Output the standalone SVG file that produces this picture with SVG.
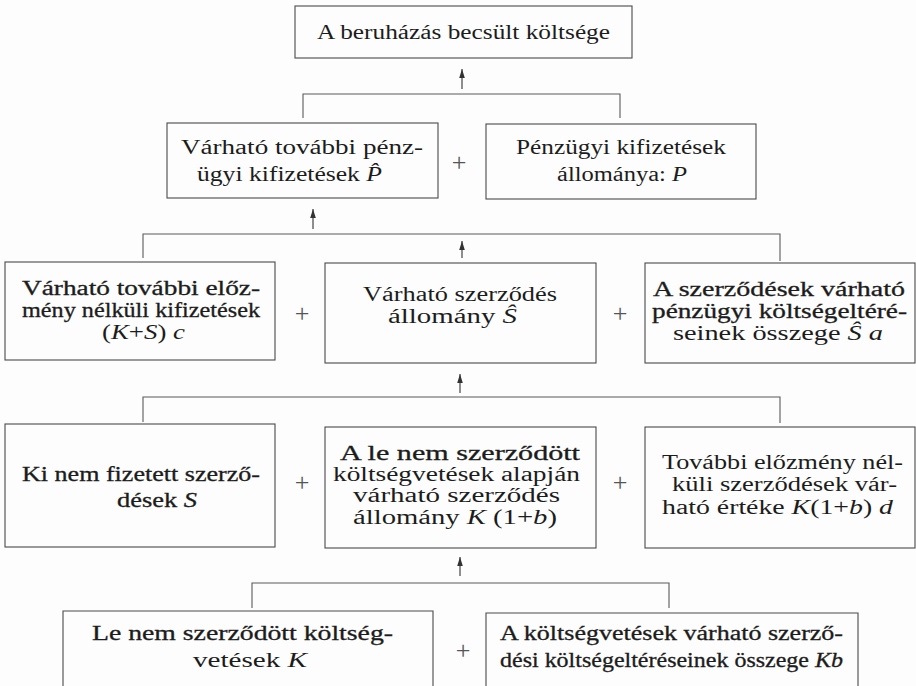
<svg xmlns="http://www.w3.org/2000/svg" width="916" height="686" viewBox="0 0 916 686">
<defs>
<style>
.bx{fill:none;stroke:#4a4a4a;stroke-width:1.1}
.ln{fill:none;stroke:#5a5a5a;stroke-width:1.1}
.ar{fill:none;stroke:#333;stroke-width:1.1;marker-end:url(#ah)}
.t{font-family:'Liberation Serif','DejaVu Serif',serif;font-size:20.5px;fill:#1c1c1c}
.d{stroke:#1c1c1c;stroke-width:0.3}
.i{font-style:italic}
.p{font-family:'Liberation Serif','DejaVu Serif',serif;font-size:26px;fill:#555;text-anchor:middle}
</style>
<marker id="ah" viewBox="-10 -4 11 8" refX="0" refY="0" markerWidth="11" markerHeight="8" markerUnits="userSpaceOnUse" orient="auto">
<path d="M0,0 L-9,-2.8 L-9,2.8 Z" fill="#333"/>
</marker>
</defs>
<rect x="0" y="0" width="916" height="686" fill="#fdfdfd"/>

<g id="connectors">
<path class="ar" d="M462,89 V69"/>
<path class="ln" d="M303,118 V94 H620 V118"/>
<path class="ar" d="M313,229 V209"/>
<path class="ln" d="M143,258 V234 H780 V261"/>
<path class="ar" d="M462,258 V241"/>
<path class="ar" d="M460,393 V374"/>
<path class="ln" d="M143,422 V397 H780 V423"/>
<path class="ar" d="M460,576 V557"/>
<path class="ln" d="M252,608 V583 H669 V608"/>
</g>

<g id="n-top">
<rect class="bx" x="295" y="6" width="337" height="52"/>
<text class="t" x="317" y="39" textLength="293" lengthAdjust="spacingAndGlyphs">A beruházás becsült költsége</text>
</g>

<g id="n-phat">
<rect class="bx" x="167" y="123" width="271" height="75"/>
<text class="t" x="181" y="154" textLength="242" lengthAdjust="spacingAndGlyphs">Várható további pénz-</text>
<text class="t" x="197" y="181" textLength="185" lengthAdjust="spacingAndGlyphs">ügyi kifizetések <tspan class="i">P̂</tspan></text>
</g>
<text class="p" x="459" y="171">+</text>
<g id="n-p">
<rect class="bx" x="486" y="124" width="270" height="75"/>
<text class="t" x="516" y="154" textLength="210" lengthAdjust="spacingAndGlyphs">Pénzügyi kifizetések</text>
<text class="t" x="557" y="181" textLength="130" lengthAdjust="spacingAndGlyphs">állománya: <tspan class="i">P</tspan></text>
</g>

<g id="n-ksc">
<rect class="bx" x="5" y="262" width="270" height="98"/>
<text class="t d" x="22" y="295" textLength="238" lengthAdjust="spacingAndGlyphs">Várható további előz-</text>
<text class="t d" x="22" y="317" textLength="238" lengthAdjust="spacingAndGlyphs">mény nélküli kifizetések</text>
<text class="t" x="102" y="339" textLength="83" lengthAdjust="spacingAndGlyphs">(<tspan class="i">K</tspan>+<tspan class="i">S</tspan>) <tspan class="i">c</tspan></text>
</g>
<text class="p" x="302" y="322">+</text>
<g id="n-shat">
<rect class="bx" x="325" y="263" width="271" height="100"/>
<text class="t" x="363" y="301" textLength="194" lengthAdjust="spacingAndGlyphs">Várható szerződés</text>
<text class="t" x="388" y="323" textLength="129" lengthAdjust="spacingAndGlyphs">állomány <tspan class="i">Ŝ</tspan></text>
</g>
<text class="p" x="620" y="322">+</text>
<g id="n-sa">
<rect class="bx" x="645" y="263" width="270" height="100"/>
<text class="t d" x="653" y="296" textLength="252" lengthAdjust="spacingAndGlyphs">A szerződések várható</text>
<text class="t d" x="652" y="318" textLength="255" lengthAdjust="spacingAndGlyphs">pénzügyi költségeltéré-</text>
<text class="t" x="673" y="340" textLength="210" lengthAdjust="spacingAndGlyphs">seinek összege <tspan class="i">Ŝ  a</tspan></text>
</g>

<g id="n-s">
<rect class="bx" x="5" y="424" width="270" height="123"/>
<text class="t d" x="22" y="481" textLength="238" lengthAdjust="spacingAndGlyphs">Ki nem fizetett szerző-</text>
<text class="t d" x="117" y="507" textLength="80" lengthAdjust="spacingAndGlyphs">dések <tspan class="i">S</tspan></text>
</g>
<text class="p" x="302" y="491">+</text>
<g id="n-k1b">
<rect class="bx" x="325" y="427" width="271" height="121"/>
<text class="t d" x="340" y="460" textLength="240" lengthAdjust="spacingAndGlyphs">A le nem szerződött</text>
<text class="t" x="333" y="481" textLength="247" lengthAdjust="spacingAndGlyphs">költségvetések alapján</text>
<text class="t" x="353" y="502" textLength="207" lengthAdjust="spacingAndGlyphs">várható szerződés</text>
<text class="t" x="353" y="524" textLength="204" lengthAdjust="spacingAndGlyphs">állomány <tspan class="i">K</tspan> (1+<tspan class="i">b</tspan>)</text>
</g>
<text class="p" x="620" y="491">+</text>
<g id="n-k1bd">
<rect class="bx" x="645" y="427" width="270" height="121"/>
<text class="t" x="662" y="469" textLength="241" lengthAdjust="spacingAndGlyphs">További előzmény nél-</text>
<text class="t" x="672" y="491" textLength="225" lengthAdjust="spacingAndGlyphs">küli szerződések vár-</text>
<text class="t" x="662" y="514" textLength="231" lengthAdjust="spacingAndGlyphs">ható értéke <tspan class="i">K</tspan>(1+<tspan class="i">b</tspan>) <tspan class="i">d</tspan></text>
</g>

<g id="n-k">
<path class="bx" d="M63,686 V611 H433 V686"/>
<text class="t d" x="92" y="640" textLength="301" lengthAdjust="spacingAndGlyphs">Le nem szerződött költség-</text>
<text class="t" x="193" y="667" textLength="114" lengthAdjust="spacingAndGlyphs">vetések <tspan class="i">K</tspan></text>
</g>
<text class="p" x="463" y="659">+</text>
<g id="n-kb">
<path class="bx" d="M486,686 V613 H858 V686"/>
<text class="t d" x="500" y="640" textLength="343" lengthAdjust="spacingAndGlyphs">A költségvetések várható szerző-</text>
<text class="t d" x="500" y="667" textLength="343" lengthAdjust="spacingAndGlyphs">dési költségeltéréseinek összege <tspan class="i">Kb</tspan></text>
</g>
</svg>
